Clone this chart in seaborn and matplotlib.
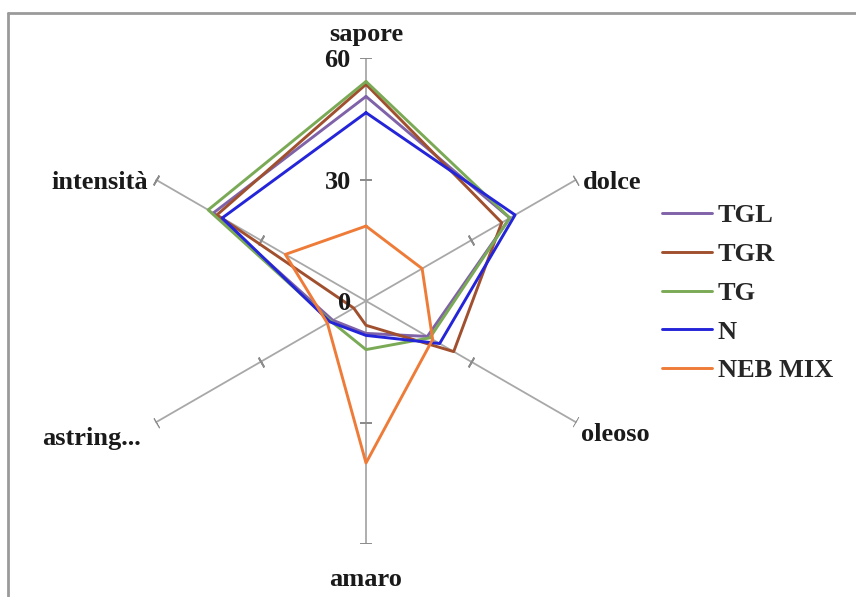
import numpy as np
import pandas as pd
import matplotlib
matplotlib.use('Agg')
import matplotlib.pyplot as plt
import seaborn as sns

# Radar data
categories = ['sapore', 'dolce', 'oleoso', 'amaro', 'astring...', 'intensità']
tgl = [50.5, 41.0, 17.5, 8.0, 9.5, 43.5]
tgr = [53.5, 38.7, 25.0, 6.0, 3.5, 42.5]
tg = [54.2, 41.0, 18.2, 12.0, 10.0, 45.0]
n = [46.5, 42.5, 21.0, 8.5, 10.3, 41.0]
neb_mix = [18.5, 16.0, 19.0, 40.0, 11.0, 23.0]
series_names = ['TGL', 'TGR', 'TG', 'N', 'NEB MIX']
r_ticks = [0, 30, 60]

colors = ['#7f62a8', '#a0502e', '#7aaa55', '#2424d8', '#ee7c38']

sns.set_style('white')
plt.rcParams['font.family'] = ['Liberation Serif', 'DejaVu Serif']

angles = np.linspace(0, 2 * np.pi, len(categories), endpoint=False)

rows = []
for name, vals in zip(series_names, [tgl, tgr, tg, n, neb_mix]):
    for cat, ang, v in zip(categories + [categories[0]], list(angles) + [2 * np.pi], vals + [vals[0]]):
        rows.append({'series': name, 'category': cat, 'theta': ang, 'value': v})
df = pd.DataFrame(rows)

fig = plt.figure(figsize=(8.56, 5.97), dpi=100)
ax = fig.add_axes([123 / 856, 53 / 597, 486 / 856, 486 / 597], projection='polar')
ax.set_theta_zero_location('N')
ax.set_theta_direction(-1)
ax.set_ylim(0, 60)
ax.grid(False)
ax.spines['polar'].set_visible(False)
ax.set_xticks([])
ax.set_yticks([])

# spokes with perpendicular tick marks
for ang in angles:
    ax.plot([ang, ang], [0, 60], color='#a8a8a8', lw=1.3, zorder=1)
    rot = 90 - np.degrees(ang)
    ax.plot([ang, ang], [30, 60], ls='none', marker=(2, 2, rot), ms=8,
            mec='#8c8c8c', mew=1.3, zorder=1)

sns.lineplot(data=df, x='theta', y='value', hue='series', palette=colors,
             hue_order=series_names, sort=False, estimator=None, lw=2.1,
             ax=ax, legend=False, zorder=3)

fs = 19
lab_font = dict(fontsize=fs, fontweight='bold', color='#1a1a1a')
ax.text(0, 63, categories[0], ha='center', va='bottom', **lab_font)
ax.text(np.radians(61.3), 61.1, categories[1], ha='left', va='center', **lab_font)
ax.text(np.radians(121.8), 62.6, categories[2], ha='left', va='center', **lab_font)
ax.text(np.pi, 66, categories[3], ha='center', va='top', **lab_font)
ax.text(np.radians(238.5), 65.1, categories[4], ha='right', va='center', **lab_font)
ax.text(np.radians(298.5), 61.3, categories[5], ha='right', va='center', **lab_font)

for t in r_ticks:
    ax.annotate(str(t), xy=(0, t), xytext=(-11, -2), textcoords='offset points',
                ha='right', va='center', **lab_font)

handles = [plt.Line2D([], [], color=c, lw=2.1) for c in colors]
fig.legend(handles, series_names, loc='upper left', bbox_to_anchor=(638 / 856, 1 - 180 / 597),
           frameon=False, prop={'size': fs, 'weight': 'bold'}, handlelength=1.9,
           labelspacing=0.58, handletextpad=0.23)

# gray frame around the chart area
fig.add_artist(plt.Line2D([8 / 856, 1], [1 - 13 / 597, 1 - 13 / 597], color='#9a9a9a', lw=2,
                          transform=fig.transFigure))
fig.add_artist(plt.Line2D([8 / 856, 8 / 856], [0, 1 - 13 / 597], color='#9a9a9a', lw=2,
                          transform=fig.transFigure))

fig.savefig('out.png', dpi=100)
